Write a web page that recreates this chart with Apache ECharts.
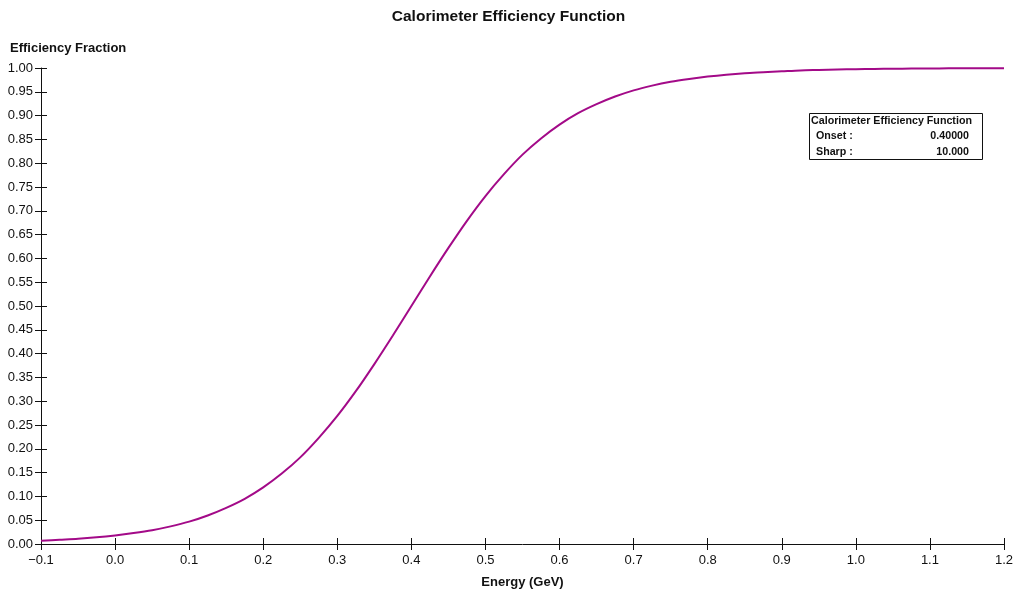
<!DOCTYPE html>
<html>
<head>
<meta charset="utf-8">
<script src="https://cdn.jsdelivr.net/npm/echarts@6/dist/echarts.min.js"></script>
<style>
  html, body { margin: 0; padding: 0; background: #fff; }
  #chart { width: 1017px; height: 592px; }
</style>
</head>
<body>
<div id="chart"></div>
<script>
// Energy samples (GeV), every 0.025 GeV
const energy = [-0.1, -0.075, -0.05, -0.025, 0.0, 0.025, 0.05, 0.075, 0.1, 0.125, 0.15, 0.175,
  0.2, 0.225, 0.25, 0.275, 0.3, 0.325, 0.35, 0.375, 0.4, 0.425, 0.45, 0.475,
  0.5, 0.525, 0.55, 0.575, 0.6, 0.625, 0.65, 0.675, 0.7, 0.725, 0.75, 0.775,
  0.8, 0.825, 0.85, 0.875, 0.9, 0.925, 0.95, 0.975, 1.0, 1.025, 1.05, 1.075,
  1.1, 1.125, 1.15, 1.175, 1.2];
// Efficiency fraction at each energy
const efficiency = [0.007, 0.009, 0.011, 0.014, 0.018, 0.023, 0.029, 0.037, 0.047, 0.060, 0.076, 0.095,
  0.119, 0.148, 0.182, 0.223, 0.269, 0.321, 0.378, 0.438, 0.500, 0.562, 0.622, 0.679,
  0.731, 0.777, 0.818, 0.852, 0.881, 0.905, 0.924, 0.940, 0.953, 0.963, 0.971, 0.977,
  0.982, 0.986, 0.989, 0.991, 0.993, 0.995, 0.996, 0.997, 0.9975, 0.998, 0.9985, 0.9988,
  0.9991, 0.9993, 0.9994, 0.9996, 0.9997];

// Fit parameters shown in the stats box
const paramNames = ['Onset :', 'Sharp :'];
const paramValues = ['0.40000', '10.000'];

const chartTitle = 'Calorimeter Efficiency Function';
const xTitle = 'Energy (GeV)';
const yTitle = 'Efficiency Fraction';

const FONT = '"Liberation Sans", Arial, Helvetica, sans-serif';
const INK = '#111';

const chart = echarts.init(document.getElementById('chart'), null, { renderer: 'canvas' });

const xBase = { type: 'value', position: 'bottom', min: -0.1, max: 1.2, interval: 0.1, splitLine: { show: false } };
const yBase = { type: 'value', position: 'left', min: 0, max: 1, interval: 0.05, splitLine: { show: false } };

const boxLeft = 809, boxTop = 113, boxW = 173, boxH = 46;

chart.setOption({
  animation: false,
  backgroundColor: '#fff',
  title: {
    text: chartTitle,
    left: 'center',
    top: 4,
    textStyle: { fontFamily: FONT, fontSize: 15.5, fontWeight: 'bold', color: INK }
  },
  grid: { left: 41, right: 13, top: 68, bottom: 48, containLabel: false, outerBoundsMode: 'none' },
  xAxis: [
    Object.assign({}, xBase, {
      name: xTitle,
      nameLocation: 'middle',
      nameGap: 32,
      nameTextStyle: { fontFamily: FONT, fontSize: 13, fontWeight: 'bold', color: INK },
      axisLine: { show: true, onZero: false, lineStyle: { color: INK, width: 1 } },
      axisTick: { show: true, inside: false, length: 6, lineStyle: { color: INK } },
      axisLabel: {
        margin: 10,
        fontFamily: FONT, fontSize: 13, color: INK,
        formatter: v => v.toFixed(1).replace('-', '\u2212')
      }
    }),
    Object.assign({}, xBase, {
      axisLine: { show: false, onZero: false },
      axisTick: { show: true, inside: true, length: 6, lineStyle: { color: INK } },
      axisLabel: { show: false }
    })
  ],
  yAxis: [
    Object.assign({}, yBase, {
      axisLine: { show: true, onZero: false, lineStyle: { color: INK, width: 1 } },
      axisTick: { show: true, inside: false, length: 6, lineStyle: { color: INK } },
      axisLabel: {
        margin: 8,
        fontFamily: FONT, fontSize: 13, color: INK,
        formatter: v => v.toFixed(2)
      }
    }),
    Object.assign({}, yBase, {
      axisLine: { show: false, onZero: false },
      axisTick: { show: true, inside: true, length: 6, lineStyle: { color: INK } },
      axisLabel: { show: false }
    })
  ],
  series: [{
    type: 'line',
    xAxisIndex: 0,
    yAxisIndex: 0,
    data: energy.map((e, i) => [e, efficiency[i]]),
    smooth: 0.3,
    showSymbol: false,
    clip: false,
    lineStyle: { color: '#a30a88', width: 2 },
    z: 5
  }],
  graphic: [
    {
      type: 'text',
      x: 10,
      y: 48,
      style: { text: yTitle, font: 'bold 13px ' + FONT, fill: INK, verticalAlign: 'middle' }
    },
    {
      type: 'rect',
      shape: { x: boxLeft + 0.5, y: boxTop + 0.5, width: boxW, height: boxH },
      style: { fill: '#fff', stroke: INK, lineWidth: 1 },
      z: 10
    },
    {
      type: 'text',
      x: boxLeft + 2, y: boxTop + 8,
      style: { text: chartTitle, font: 'bold 10.7px ' + FONT, fill: INK, align: 'left', verticalAlign: 'middle' },
      z: 11
    },
    ...paramNames.flatMap((name, i) => [
      {
        type: 'text',
        x: boxLeft + 7, y: boxTop + 23 + i * 16,
        style: { text: name, font: 'bold 10.7px ' + FONT, fill: INK, align: 'left', verticalAlign: 'middle' },
        z: 11
      },
      {
        type: 'text',
        x: boxLeft + 160, y: boxTop + 23 + i * 16,
        style: { text: paramValues[i], font: 'bold 10.7px ' + FONT, fill: INK, align: 'right', verticalAlign: 'middle' },
        z: 11
      }
    ])
  ]
});
</script>
</body>
</html>
